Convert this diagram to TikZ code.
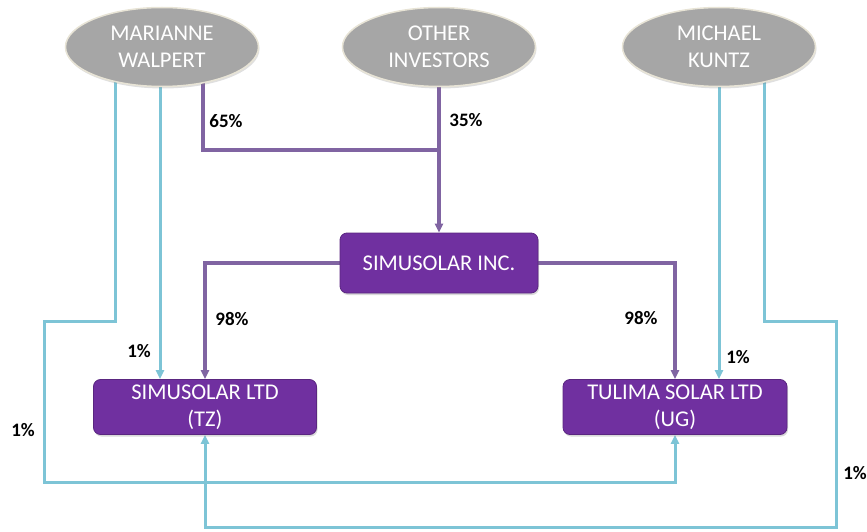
\documentclass[tikz,border=0pt]{standalone}
\usepackage{fontspec}
\setmainfont{Carlito}
\usetikzlibrary{positioning,arrows.meta,shapes.geometric,shadows,backgrounds}
\definecolor{grisOval}{RGB}{166,166,166}
\definecolor{bordeOval}{RGB}{232,228,214}
\definecolor{moradoBox}{RGB}{112,48,160}
\definecolor{moradoLine}{RGB}{128,100,162}
\definecolor{celesteLine}{RGB}{125,196,214}

\tikzset{
  owner/.style={ellipse, fill=grisOval, draw=bordeOval, line width=1.5pt,
    minimum width=193, minimum height=79, inner sep=0pt, text=white,
    align=center, font=\fontsize{22.5}{27}\selectfont,
    drop shadow={opacity=0.25, shadow xshift=1pt, shadow yshift=-2pt}},
  firm/.style={rectangle, rounded corners=7, fill=moradoBox,
    draw=moradoBox!80!black, line width=0.8pt, inner sep=0pt, text=white,
    align=center, font=\fontsize{22.5}{27}\selectfont,
    drop shadow={opacity=0.3, shadow xshift=1pt, shadow yshift=-2pt}},
  pct/.style={font=\fontsize{19}{22}\selectfont\bfseries, inner sep=0pt},
  morado/.style={draw=moradoLine, line width=3.2pt},
  celeste/.style={draw=celesteLine, line width=3pt},
  flecha/.style={-{Triangle[width=8pt,length=9pt]}}
}

\begin{document}
\begin{tikzpicture}[x=1pt, y=-1pt]
  \useasboundingbox (0,0) rectangle (867,532);
  % Shareholders
  \node[owner] (walpert) at (162,47) {MARIANNE\\WALPERT};
  \node[owner] (otros) at (439,47) {OTHER\\INVESTORS};
  \node[owner] (kuntz) at (719,47) {MICHAEL\\KUNTZ};
  % Companies
  \node[firm, minimum width=198, minimum height=60] (inc) at (439,263)
    {SIMUSOLAR INC.};
  \node[firm, minimum width=223, minimum height=55] (tz) at (205,407)
    {SIMUSOLAR LTD\\(TZ)};
  \node[firm, minimum width=224, minimum height=55] (ug) at (675,407)
    {TULIMA SOLAR LTD\\(UG)};
  % Bend points
  \coordinate (wA) at (115,47);
  \coordinate (wB) at (160,47);
  \coordinate (wC) at (203,47);
  \coordinate (kB) at (764,47);
  \coordinate (union) at (439,150);
  \coordinate (codoL) at (44,321);
  \coordinate (baseL) at (44,482);
  \coordinate (codoR) at (836,321);
  \coordinate (baseR) at (836,527);
  % Ownership lines
  \begin{scope}[on background layer]
    \draw[morado] (wC) |- (union);
    \draw[morado, flecha] (otros) -- (inc.north);
    \draw[morado, flecha] (inc.west) -| (tz.north);
    \draw[morado, flecha] (inc.east) -| (ug.north);
    \draw[celeste, flecha] (wB) -- (wB |- tz.north);
    \draw[celeste, flecha] (wA) |- (codoL) -- (baseL) -| (ug.south);
    \draw[celeste, flecha] (kuntz) -- (kuntz |- ug.north);
    \draw[celeste, flecha] (kB) |- (codoR) -- (baseR) -| (tz.south);
  \end{scope}
  % Percentages
  \node[pct] (p65) at (226,121) {65\%};
  \node[pct] (p35) at (466,120) {35\%};
  \node[pct] (p98tz) at (232,319) {98\%};
  \node[pct] (p98ug) at (641,318) {98\%};
  \node[pct] (p1wB) at (139,351) {1\%};
  \node[pct] (p1wA) at (23,430) {1\%};
  \node[pct] (p1kA) at (738,357) {1\%};
  \node[pct] (p1kB) at (855,473) {1\%};
\end{tikzpicture}
\end{document}
